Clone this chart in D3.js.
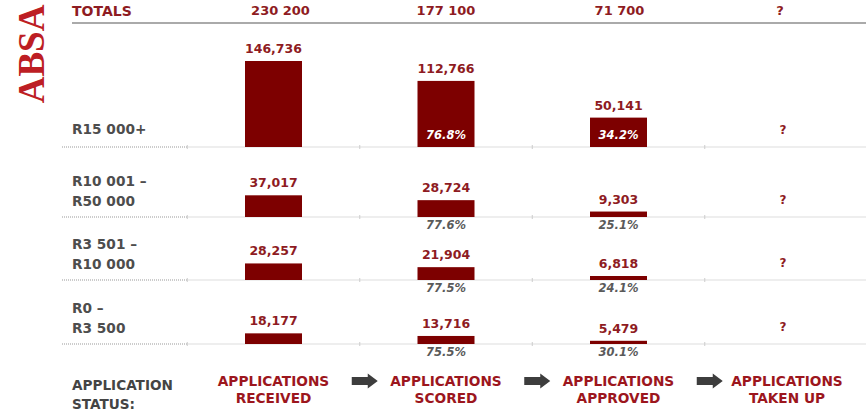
<!DOCTYPE html>
<html>
<head>
    <meta charset="UTF-8">
    <title>ABSA application funnel</title>
    <script src="https://cdn.jsdelivr.net/npm/d3@7/dist/d3.min.js"></script>
    <style>
        body { margin: 0; background: #fff; }
        text { font-family: "DejaVu Sans", Verdana, sans-serif; font-weight: bold; }
    </style>
</head>
<body>
    <svg id="chart"></svg>
    <script>

        // data
        const bands = [["R15 000+"], ["R10 001 \u2013", "R50 000"], ["R3 501 \u2013", "R10 000"], ["R0  \u2013", "R3 500"]];
        const stages = [["APPLICATIONS", "RECEIVED"], ["APPLICATIONS", "SCORED"], ["APPLICATIONS", "APPROVED"], ["APPLICATIONS", "TAKEN UP"]];
        const totals = ["230 200", "177 100", "71 700", "?"];
        const received = [146736, 37017, 28257, 18177];
        const scored = [112766, 28724, 21904, 13716];
        const approved = [50141, 9303, 6818, 5479];
        const scoredPct = ["76.8%", "77.6%", "77.5%", "75.5%"];
        const approvedPct = ["34.2%", "25.1%", "24.1%", "30.1%"];

        const width = 866, height = 414;
        const barW = 57;
        const red = "#7d0000", textRed = "#8e1b22", grey = "#4d4d4d";

        const svg = d3.select("#chart")
            .attr("width", width)
            .attr("height", height);

        // columns
        const x = d3.scalePoint()
            .domain(d3.range(4))
            .range([273.5, 791]);
        const step = x.step();

        // row baselines (first row is taller)
        const rowY = d3.scaleOrdinal()
            .domain(d3.range(4))
            .range([147, 217, 280, 344]);

        const h = d3.scaleLinear()
            .domain([0, d3.max(received)])
            .range([0, 86]);

        // ABSA logo text
        svg.append("text")
            .attr("transform", "translate(44, 54) rotate(-90)")
            .attr("text-anchor", "middle")
            .style("font-family", "'Liberation Serif', serif")
            .style("font-size", "37px")
            .attr("fill", "#bd1e24")
            .text("ABSA");

        // totals row (slightly off the column centres on the slide)
        const totalShift = [7, 0, 1, -11];
        svg.append("text")
            .attr("x", 72).attr("y", 16)
            .attr("fill", textRed)
            .style("font-size", "14px")
            .text("TOTALS");
        svg.selectAll(".total")
            .data(totals)
            .join("text")
            .attr("x", (d, i) => x(i) + totalShift[i])
            .attr("y", 15)
            .attr("text-anchor", "middle")
            .attr("fill", textRed)
            .style("font-size", "13px")
            .text(d => d);
        svg.append("line")
            .attr("x1", 72).attr("x2", width)
            .attr("y1", 23).attr("y2", 23)
            .attr("stroke", "#aaa")
            .attr("stroke-width", 2);

        // row guide lines
        const rows = svg.selectAll(".row")
            .data(bands)
            .join("g")
            .attr("transform", (d, i) => `translate(0, ${rowY(i)})`);

        rows.append("line")
            .attr("x1", 62).attr("x2", x(0) - step / 2)
            .attr("stroke", "#999")
            .attr("stroke-dasharray", "1,1");
        rows.append("line")
            .attr("x1", x(0) - step / 2).attr("x2", width)
            .attr("stroke", "#ddd");
        rows.selectAll(".tick")
            .data(d3.range(4))
            .join("line")
            .attr("x1", i => x(i) - step / 2).attr("x2", i => x(i) - step / 2)
            .attr("y1", -2).attr("y2", 2)
            .attr("stroke", "#ccc");

        // band labels
        rows.append("text")
            .attr("fill", grey)
            .style("font-size", "13.7px")
            .selectAll("tspan")
            .data(d => d)
            .join("tspan")
            .attr("x", 72)
            .attr("y", (d, i, n) => n.length == 1 ? -13 : -31 + i * 20)
            .text(d => d);

        // bars per stage
        const series = [received, scored, approved];
        series.forEach((vals, s) => {
            rows.append("rect")
                .attr("x", x(s) - barW / 2)
                .attr("width", barW)
                .attr("y", (d, i) => -h(vals[i]))
                .attr("height", (d, i) => h(vals[i]))
                .attr("fill", red);
            rows.append("text")
                .attr("x", x(s))
                .attr("y", (d, i) => -h(vals[i]) - 8)
                .attr("text-anchor", "middle")
                .attr("fill", textRed)
                .style("font-size", "12.5px")
                .text((d, i) => d3.format(",")(vals[i]));
        });

        // conversion percentages
        [scoredPct, approvedPct].forEach((pcts, s) => {
            rows.append("text")
                .attr("x", x(s + 1))
                .attr("y", (d, i) => i == 0 ? -8 : 12)
                .attr("text-anchor", "middle")
                .attr("fill", (d, i) => i == 0 ? "#fff" : "#5a5a5a")
                .style("font-size", "11.5px")
                .style("font-style", "italic")
                .text((d, i) => pcts[i]);
        });

        // taken up unknown
        rows.append("text")
            .attr("x", x(3) - 8)
            .attr("y", -13)
            .attr("text-anchor", "middle")
            .attr("fill", textRed)
            .style("font-size", "12px")
            .text("?");

        // bottom labels
        svg.append("text")
            .attr("fill", "#444")
            .style("font-size", "13.6px")
            .selectAll("tspan")
            .data(["APPLICATION", "STATUS:"])
            .join("tspan")
            .attr("x", 72)
            .attr("y", (d, i) => 390 + i * 19)
            .text(d => d);

        svg.selectAll(".stage")
            .data(stages)
            .join("text")
            .attr("fill", "#9c161d")
            .style("font-size", "13.7px")
            .attr("text-anchor", "middle")
            .selectAll("tspan")
            .data((d, i) => d.map(t => [t, i]))
            .join("tspan")
            .attr("x", d => d[1] == 3 ? x(3) - 4 : x(d[1]))
            .attr("y", (d, i) => 386 + i * 17)
            .text(d => d[0]);

        // arrows between stages
        const arrow = "M0,-4 L16,-4 L16,-7.5 L26,0 L16,7.5 L16,4 L0,4 Z";
        svg.selectAll(".arrow")
            .data(d3.range(3))
            .join("path")
            .attr("d", arrow)
            .attr("transform", i => `translate(${x(i) + step / 2 - 8}, 381)`)
            .attr("fill", "#3d3d3d");

    </script>
</body>
</html>
